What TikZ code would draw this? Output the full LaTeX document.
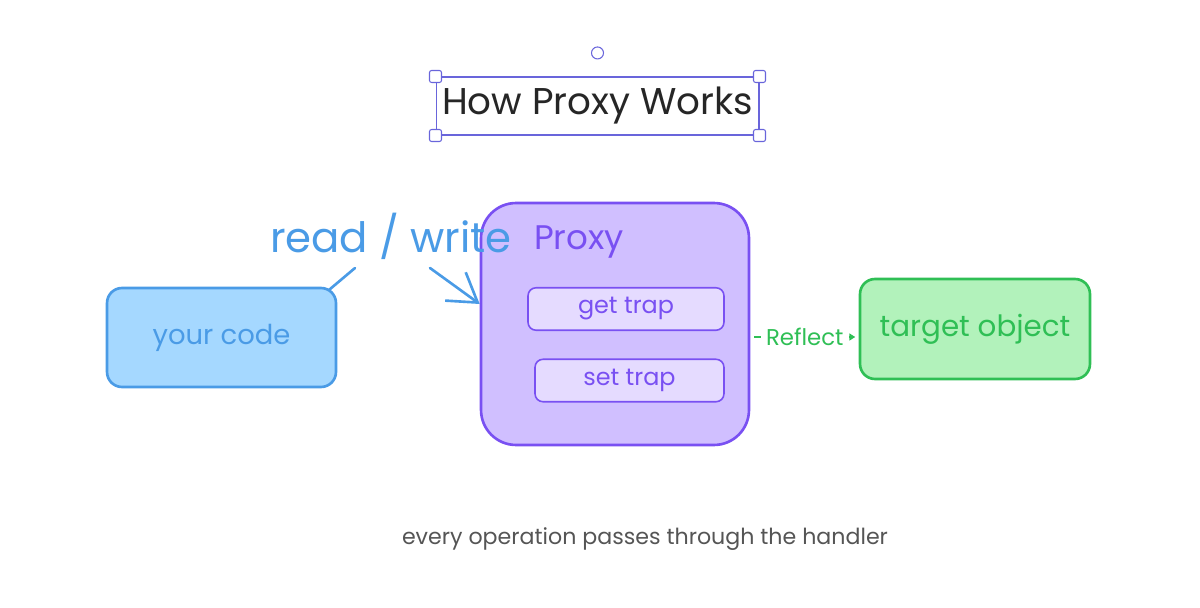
\documentclass[tikz,border=0pt]{standalone}
\usepackage{fontspec}
\setmainfont{Poppins}
\usetikzlibrary{arrows.meta,positioning}

\definecolor{codeblue}{HTML}{4A9BE6}
\definecolor{codefill}{HTML}{A5D8FF}
\definecolor{proxyline}{HTML}{7950F2}
\definecolor{proxyfill}{HTML}{D0BFFF}
\definecolor{trapfill}{HTML}{E5DBFF}
\definecolor{targetline}{HTML}{2FBF55}
\definecolor{targetfill}{HTML}{B2F2BB}
\definecolor{selectline}{HTML}{6965DB}
\definecolor{captiongray}{HTML}{555555}

\tikzset{
  box/.style={draw, rounded corners=0.3cm, line width=1.5pt, inner sep=0pt},
  trapbox/.style={draw=proxyline, fill=trapfill, rounded corners=0.16cm, line width=0.9pt,
    minimum height=0.85cm, text=proxyline, font=\fontsize{13.6}{16}\selectfont},
  handle/.style={draw=selectline, fill=white, rounded corners=1.2pt, line width=0.6pt,
    minimum size=0.24cm, inner sep=0pt}
}

\begin{document}
\begin{tikzpicture}[x=0.02cm, y=-0.02cm]
    \useasboundingbox (0,0) rectangle (1200,608);

    % Title
    \node (title) [draw=selectline, line width=0.6pt, minimum width=6.46cm, minimum height=1.16cm,
      font=\fontsize{21.2}{25}\selectfont, text=black!85] at (597.5,106) {How Proxy Works};
    \node (h1) [handle] at (title.north west) {};
    \node (h2) [handle] at (title.north east) {};
    \node (h3) [handle] at (title.south west) {};
    \node (h4) [handle] at (title.south east) {};
    \node (rot) [draw=selectline, circle, line width=0.6pt, minimum size=0.24cm, inner sep=0pt,
      above=0.34cm of title.north] {};

    % Boxes
    \node (code) [box, draw=codeblue, fill=codefill, minimum width=4.58cm, minimum height=1.98cm,
      text=codeblue, font=\fontsize{15.6}{18}\selectfont] at (221.5,337.5) {your code};
    \node (proxy) [box, draw=proxyline, fill=proxyfill, rounded corners=0.7cm,
      minimum width=5.36cm, minimum height=4.84cm] at (615,324) {};
    \node (plabel) [text=proxyline, font=\fontsize{19.4}{22}\selectfont] at (579,242) {Proxy};
    \node (get) [trapbox, minimum width=3.92cm] at (626,309) {get trap};
    \node (set) [trapbox, minimum width=3.78cm] at (629.5,380.5) {set trap};
    \node (target) [box, draw=targetline, fill=targetfill, minimum width=4.6cm, minimum height=2cm,
      text=targetline, font=\fontsize{16.7}{19}\selectfont] at (975,329) {target object};

    % Arrows
    \coordinate (rw1) at (355,268);
    \coordinate (rw2) at (430,268);
    \node (rw) [text=codeblue, font=\fontsize{23.8}{28}\selectfont] at (391,236) {read / write};
    \draw[codeblue, line width=1.5pt, line cap=round] (code.north east) ++(-8,3) -- (rw1);
    \draw[codeblue, line width=1.5pt, line cap=round, -{Straight Barb[length=0.55cm, width=0.7cm]}]
      (rw2) -- (proxy.west |- 0,304);
    \draw[targetline, line width=1.2pt, -{Triangle[length=1.2mm, width=1.4mm]}]
      (proxy.east |- target.west) ++(4,8) -- node[fill=white, inner sep=3pt, text=targetline,
      font=\fontsize{13}{15}\selectfont] {Reflect} ++(101,0);

    % Caption
    \node (note) [text=captiongray, font=\fontsize{12.6}{15}\selectfont] at (645,539)
      {every operation passes through the handler};
\end{tikzpicture}
\end{document}
